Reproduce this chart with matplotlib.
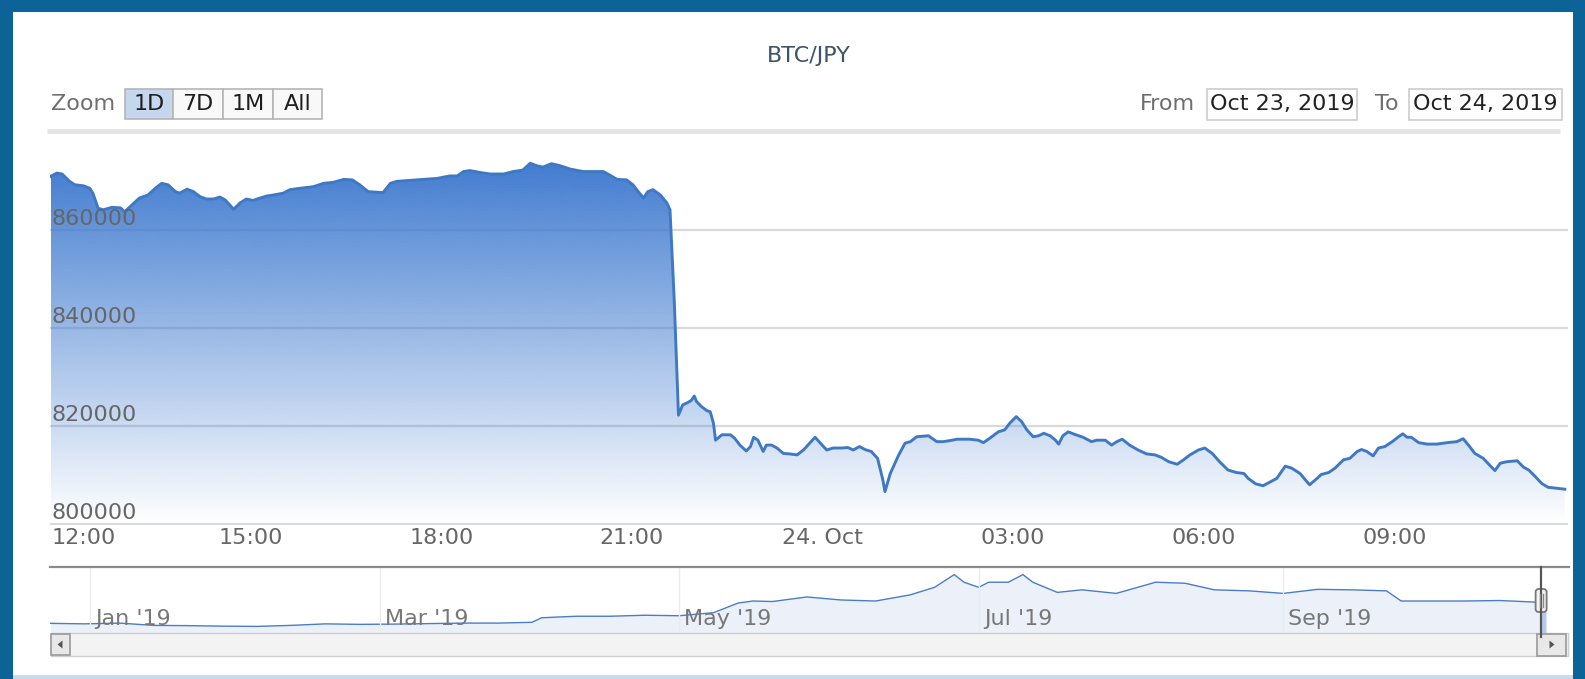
import matplotlib
matplotlib.use("Agg")
import matplotlib.pyplot as plt
import matplotlib.dates as mdates
import matplotlib.transforms as mtransforms
from matplotlib.patches import Rectangle, FancyBboxPatch, Polygon
import numpy as np
import pandas as pd

plt.rcParams['font.family'] = ['DejaVu Sans']

W, H, DPI = 1585, 679, 100
FS = 16

# ---------------- data ----------------
title = "BTC/JPY"
zoom_buttons = ["1D", "7D", "1M", "All"]
selected_button = "1D"
from_label, to_label = "From", "To"
from_date, to_date = "Oct 23, 2019", "Oct 24, 2019"

times = [
    "10-23 11:51", "10-23 11:57", "10-23 12:02", "10-23 12:09", "10-23 12:14", "10-23 12:22",
    "10-23 12:28", "10-23 12:31", "10-23 12:36", "10-23 12:41", "10-23 12:49", "10-23 12:57",
    "10-23 13:01", "10-23 13:08", "10-23 13:15", "10-23 13:23", "10-23 13:30", "10-23 13:36",
    "10-23 13:42", "10-23 13:49", "10-23 13:53", "10-23 14:00", "10-23 14:06", "10-23 14:12",
    "10-23 14:18", "10-23 14:25", "10-23 14:31", "10-23 14:36", "10-23 14:44", "10-23 14:50",
    "10-23 14:56", "10-23 15:02", "10-23 15:09", "10-23 15:15", "10-23 15:21", "10-23 15:31",
    "10-23 15:37", "10-23 15:47", "10-23 15:59", "10-23 16:09", "10-23 16:18", "10-23 16:28",
    "10-23 16:36", "10-23 16:43", "10-23 16:51", "10-23 16:58", "10-23 17:05", "10-23 17:12",
    "10-23 17:18", "10-23 17:30", "10-23 17:43", "10-23 17:56", "10-23 18:08", "10-23 18:15",
    "10-23 18:21", "10-23 18:27", "10-23 18:37", "10-23 18:46", "10-23 18:59", "10-23 19:08",
    "10-23 19:17", "10-23 19:24", "10-23 19:30", "10-23 19:36", "10-23 19:44", "10-23 19:52",
    "10-23 20:02", "10-23 20:14", "10-23 20:33", "10-23 20:39", "10-23 20:46", "10-23 20:55",
    "10-23 21:01", "10-23 21:06", "10-23 21:11", "10-23 21:15", "10-23 21:20", "10-23 21:27",
    "10-23 21:33", "10-23 21:36", "10-23 21:40", "10-23 21:44", "10-23 21:48", "10-23 21:53",
    "10-23 21:56", "10-23 21:59", "10-23 22:01", "10-23 22:06", "10-23 22:11", "10-23 22:14",
    "10-23 22:17", "10-23 22:19", "10-23 22:25", "10-23 22:33", "10-23 22:37", "10-23 22:42",
    "10-23 22:48", "10-23 22:52", "10-23 22:55", "10-23 22:59", "10-23 23:04", "10-23 23:07",
    "10-23 23:12", "10-23 23:17", "10-23 23:23", "10-23 23:29", "10-23 23:36", "10-23 23:42",
    "10-23 23:48", "10-23 23:53", "10-23 23:58",
    "10-24 00:04", "10-24 00:10", "10-24 00:18", "10-24 00:24", "10-24 00:29", "10-24 00:35",
    "10-24 00:40", "10-24 00:46", "10-24 00:52", "10-24 00:57", "10-24 00:59", "10-24 01:04",
    "10-24 01:12", "10-24 01:18", "10-24 01:23", "10-24 01:29", "10-24 01:40", "10-24 01:48",
    "10-24 01:54", "10-24 02:00", "10-24 02:07", "10-24 02:19", "10-24 02:27", "10-24 02:32",
    "10-24 02:38", "10-24 02:46", "10-24 02:52", "10-24 02:57", "10-24 03:03", "10-24 03:08",
    "10-24 03:13", "10-24 03:19", "10-24 03:24", "10-24 03:29", "10-24 03:35", "10-24 03:40",
    "10-24 03:43", "10-24 03:47", "10-24 03:52", "10-24 03:58", "10-24 04:06", "10-24 04:14",
    "10-24 04:19", "10-24 04:27", "10-24 04:33", "10-24 04:38", "10-24 04:43", "10-24 04:50",
    "10-24 04:58", "10-24 05:06", "10-24 05:14", "10-24 05:20", "10-24 05:27", "10-24 05:35",
    "10-24 05:41", "10-24 05:47", "10-24 05:55", "10-24 06:01", "10-24 06:08", "10-24 06:15",
    "10-24 06:23", "10-24 06:31", "10-24 06:38", "10-24 06:42", "10-24 06:49", "10-24 06:56",
    "10-24 07:03", "10-24 07:09", "10-24 07:17", "10-24 07:23", "10-24 07:31", "10-24 07:36",
    "10-24 07:40", "10-24 07:47", "10-24 07:51", "10-24 07:58", "10-24 08:04", "10-24 08:12",
    "10-24 08:18", "10-24 08:25", "10-24 08:29", "10-24 08:34", "10-24 08:40", "10-24 08:45",
    "10-24 08:51", "10-24 08:58", "10-24 09:04", "10-24 09:08", "10-24 09:12", "10-24 09:16",
    "10-24 09:23", "10-24 09:31", "10-24 09:40", "10-24 09:50", "10-24 09:59", "10-24 10:05",
    "10-24 10:10", "10-24 10:16", "10-24 10:24", "10-24 10:30", "10-24 10:35", "10-24 10:40",
    "10-24 10:46", "10-24 10:56", "10-24 11:02", "10-24 11:07", "10-24 11:13", "10-24 11:19",
    "10-24 11:25", "10-24 11:33", "10-24 11:41",
]

prices = [
    871000, 871700, 871500, 870000, 869300, 869100,
    868600, 867600, 864500, 864200, 864700, 864600,
    863800, 865200, 866600, 867200, 868600, 869600,
    869300, 867900, 867600, 868400, 867900, 866900,
    866400, 866400, 866800, 866200, 864300, 865600,
    866400, 866100, 866600, 867000, 867200, 867600,
    868300, 868600, 868900, 869600, 869800, 870400,
    870300, 869300, 867900, 867800, 867700, 869600,
    870000, 870200, 870400, 870600, 871100, 871100,
    872000, 872200, 871800, 871500, 871500, 872000,
    872300, 873700, 873200, 872900, 873600, 873200,
    872500, 872000, 872000, 871300, 870400, 870300,
    869300, 867900, 866600, 867900, 868300, 867200,
    865600, 864200, 845800, 822300, 824400, 824900,
    825300, 826200, 825100, 824000, 823200, 823000,
    820700, 817200, 818300, 818300, 817600, 816200,
    815000, 815900, 817800, 817200, 814900, 816200,
    816200, 815600, 814500, 814400, 814200, 815200,
    816600, 817800, 816600,
    815200, 815600, 815600, 815700, 815200, 815900,
    815300, 814900, 813500, 809100, 806700, 810400,
    814200, 816600, 816900, 817900, 818100, 816900,
    816900, 817100, 817400, 817400, 817200, 816700,
    817600, 818900, 819300, 820700, 822000, 821000,
    819300, 817900, 818100, 818600, 818100, 817200,
    816400, 818100, 818900, 818400, 817800, 816900,
    817200, 817200, 816200, 816900, 817400, 816200,
    815200, 814400, 814200, 813700, 812800, 812300,
    813200, 814200, 815200, 815600, 814500, 812800,
    811100, 810600, 810400, 809400, 808300, 807900,
    808700, 809400, 811900, 811500, 810400, 809100,
    808100, 809400, 810200, 810600, 811500, 813200,
    813500, 814900, 815300, 814900, 814000, 815600,
    815900, 816900, 817900, 818500, 817800, 817800,
    816700, 816400, 816400, 816700, 816900, 817500,
    816200, 814500, 813500, 812100, 811000, 812500,
    812800, 813000, 811700, 811100, 809800, 808400,
    807600, 807400, 807200,
]

y_ticks = [800000, 820000, 840000, 860000]
x_ticks = ["2019-10-23 12:00", "2019-10-23 15:00", "2019-10-23 18:00", "2019-10-23 21:00",
           "2019-10-24 00:00", "2019-10-24 03:00", "2019-10-24 06:00", "2019-10-24 09:00"]
x_tick_labels = ["12:00", "15:00", "18:00", "21:00", "24. Oct", "03:00", "06:00", "09:00"]

nav_dates = [
    "2018-12-24 00:00", "2018-12-31 00:00", "2019-01-07 00:00", "2019-01-14 00:00",
    "2019-01-21 00:00", "2019-01-28 00:00", "2019-02-04 00:00", "2019-02-11 00:00",
    "2019-02-18 00:00", "2019-02-25 00:00", "2019-03-04 00:00", "2019-03-11 00:00",
    "2019-03-18 00:00", "2019-03-25 00:00", "2019-04-01 00:00", "2019-04-03 00:00",
    "2019-04-10 00:00", "2019-04-17 00:00", "2019-04-24 00:00", "2019-05-01 00:00",
    "2019-05-08 00:00", "2019-05-13 00:00", "2019-05-16 00:00", "2019-05-20 00:00",
    "2019-05-27 00:00", "2019-06-03 00:00", "2019-06-10 00:00", "2019-06-17 00:00",
    "2019-06-22 00:00", "2019-06-26 00:00", "2019-06-28 00:00", "2019-07-01 00:00",
    "2019-07-03 00:00", "2019-07-07 00:00", "2019-07-10 00:00", "2019-07-12 00:00",
    "2019-07-17 00:00", "2019-07-22 00:00", "2019-07-29 00:00", "2019-08-06 00:00",
    "2019-08-12 00:00", "2019-08-18 00:00", "2019-08-25 00:00", "2019-09-01 00:00",
    "2019-09-08 00:00", "2019-09-15 00:00", "2019-09-22 00:00", "2019-09-25 00:00",
    "2019-10-01 00:00", "2019-10-08 00:00", "2019-10-15 00:00", "2019-10-22 00:00",
    "2019-10-24 11:41",
]
nav_prices = [
    440000, 430000, 445000, 400000, 395000, 385000,
    380000, 400000, 430000, 420000, 425000, 435000,
    445000, 445000, 460000, 550000, 580000, 580000,
    600000, 590000, 650000, 840000, 880000, 870000,
    960000, 900000, 880000, 1000000, 1150000, 1400000,
    1250000, 1150000, 1250000, 1250000, 1400000, 1250000,
    1050000, 1100000, 1030000, 1250000, 1230000, 1100000,
    1080000, 1030000, 1110000, 1100000, 1080000, 880000,
    880000, 880000, 890000, 860000, 810000,
]
nav_ticks = ["2019-01-01", "2019-03-01", "2019-05-01", "2019-07-01", "2019-09-01"]
nav_tick_labels = ["Jan '19", "Mar '19", "May '19", "Jul '19", "Sep '19"]

# ---------------- figure ----------------
t = pd.to_datetime(["2019-" + s for s in times], format="%Y-%m-%d %H:%M")
tn = mdates.date2num(t)
nd = mdates.date2num(pd.to_datetime(nav_dates, format="%Y-%m-%d %H:%M"))

fig = plt.figure(figsize=(W / DPI, H / DPI), dpi=DPI)
fig.patch.set_facecolor('white')


def box(l, top, r, b):
    return [l / W, 1 - b / H, (r - l) / W, (b - top) / H]


# ---- main plot ----
ax = fig.add_axes(box(50.5, 140, 1568, 524.5))
ax.set_axis_off()
y_top = 800000 + (524.5 - 140) / 4.902 * 1000
x_right = mdates.date2num(t[-1] + pd.Timedelta(minutes=3))

for v in y_ticks:
    ax.axhline(v, color='#d9d9d9', lw=1.6, zorder=1)

poly = ax.fill_between(tn, prices, y_ticks[0], facecolor='none', edgecolor='none')
grad = np.zeros((256, 1, 4))
grad[..., 0] = 66 / 255
grad[..., 1] = 124 / 255
grad[..., 2] = 208 / 255
grad[:, 0, 3] = np.linspace(0, 1, 256)
img = ax.imshow(grad, extent=[tn[0], tn[-1], y_ticks[0], max(prices)], aspect='auto',
                origin='lower', interpolation='bilinear', zorder=2)
img.set_clip_path(poly.get_paths()[0], ax.transData)
ax.plot(tn, prices, color='#3f79c4', lw=2.1, zorder=3, solid_joinstyle='round')
ax.set_xlim(tn[0], x_right)
ax.set_ylim(y_ticks[0], y_top)

ytr = mtransforms.offset_copy(ax.get_yaxis_transform(), fig=fig, x=1, y=5, units='dots')
for v in y_ticks:
    ax.text(0, v, f"{v}", transform=ytr, ha='left', va='baseline', fontsize=FS,
            color='#666666', zorder=5)

xtr = mtransforms.offset_copy(ax.get_xaxis_transform(), fig=fig, x=0, y=-4, units='dots')
xtn = mdates.date2num(pd.to_datetime(x_ticks))
for i, (xv, lab) in enumerate(zip(xtn, x_tick_labels)):
    if i == 0:
        ax.text(0, 0, lab, transform=mtransforms.offset_copy(ax.transAxes, fig=fig, x=1, y=-4, units='dots'),
                ha='left', va='top', fontsize=FS, color='#666666')
    else:
        ax.text(xv, 0, lab, transform=xtr, ha='center', va='top', fontsize=FS, color='#666666')

# ---- navigator ----
nav = fig.add_axes(box(50.5, 567, 1546, 633))
nav.set_axis_off()
nav.fill_between(nd, nav_prices, 250000, color='#4a7cc8', alpha=0.4, lw=0)
nav.plot(nd, nav_prices, color='#4a7cc8', lw=1)
nav.set_xlim(nd[0], nd[-1])
nav.set_ylim(250000, 1550000)
nav.axvspan(nd[0], tn[0], color='white', alpha=0.75, lw=0)
ntn = mdates.date2num(pd.to_datetime(nav_ticks))
for xv in ntn:
    nav.axvline(xv, color='#ebebeb', lw=1)
ntr = mtransforms.offset_copy(nav.get_xaxis_transform(), fig=fig, x=5, y=0, units='dots')
for xv, lab in zip(ntn, nav_tick_labels):
    nav.text(xv, 0.21, lab, transform=ntr, ha='left', va='center', fontsize=FS, color='#777777')

sel_x = nav.transData.transform((tn[0], 0))[0]

# ---- overlay (frame, buttons, scrollbar) ----
ov = fig.add_axes([0, 0, 1, 1], zorder=10)
ov.set_xlim(0, W)
ov.set_ylim(H, 0)
ov.set_axis_off()


def rect(x0, y0, x1, y1, **kw):
    ov.add_patch(Rectangle((x0, y0), x1 - x0, y1 - y0, **kw))


frame = '#0b6398'
rect(0, 0, W, 12, fc=frame, ec='none')
rect(0, 0, 13, H, fc=frame, ec='none')
rect(W - 12, 0, W, H, fc=frame, ec='none')
rect(13, H - 4, W - 12, H, fc='#c4dcee', ec='none')

ov.text(809, 56, title, ha='center', va='center', fontsize=FS, color='#3e5468')

# range selector
ov.text(51, 104, "Zoom", ha='left', va='center', fontsize=FS, color='#6e6e6e')
edges = [125, 173, 223, 273, 322]
for i, lab in enumerate(zoom_buttons):
    fc = '#c5d7ee' if lab == selected_button else '#f8f8f8'
    rect(edges[i], 89, edges[i + 1], 119, fc=fc, ec='#b5b5b5', lw=1.2)
    ov.text((edges[i] + edges[i + 1]) / 2, 104, lab, ha='center', va='center',
            fontsize=FS, color='#1e1e1e')

ov.text(1195, 104, from_label, ha='right', va='center', fontsize=FS, color='#6e6e6e')
rect(1207, 89, 1357, 120, fc='white', ec='#cccccc', lw=1.2)
ov.text(1282, 104.5, from_date, ha='center', va='center', fontsize=FS, color='#222222')
ov.text(1399, 104, to_label, ha='right', va='center', fontsize=FS, color='#6e6e6e')
rect(1409, 89, 1562, 120, fc='white', ec='#cccccc', lw=1.2)
ov.text(1485.5, 104.5, to_date, ha='center', va='center', fontsize=FS, color='#222222')

ov.plot([47, 1560], [131, 131], color='#e4e4e4', lw=3.5, solid_capstyle='butt')

# navigator outline & handle
ov.plot([50, 1569], [567, 567], color='#8a8a8a', lw=1.6)
ov.plot([sel_x, sel_x], [567, 637], color='#555555', lw=1.6)
ov.add_patch(FancyBboxPatch((sel_x - 5.5, 589), 11, 23, boxstyle='round,pad=0,rounding_size=3',
                            fc='#f4f4f4', ec='#777777', lw=1.3))
ov.plot([sel_x - 1.5, sel_x - 1.5], [594, 607], color='#888888', lw=1)
ov.plot([sel_x + 1.5, sel_x + 1.5], [594, 607], color='#888888', lw=1)

# scrollbar
rect(50.5, 633, 1568, 656, fc='#f3f3f3', ec='#cfcfcf', lw=1)
rect(50.5, 634, 70, 655, fc='#e8e8e8', ec='#999999', lw=1.2)
ov.add_patch(Polygon([(62.5, 640.5), (62.5, 648.5), (57.5, 644.5)], closed=True, fc='#555555', ec='none'))
rect(1537, 634, 1566, 656, fc='#e8e8e8', ec='#999999', lw=1.2)
ov.add_patch(Polygon([(1549.5, 640.5), (1549.5, 648.5), (1554.5, 644.5)], closed=True, fc='#555555', ec='none'))

fig.savefig("out.png", dpi=DPI, facecolor='white')
